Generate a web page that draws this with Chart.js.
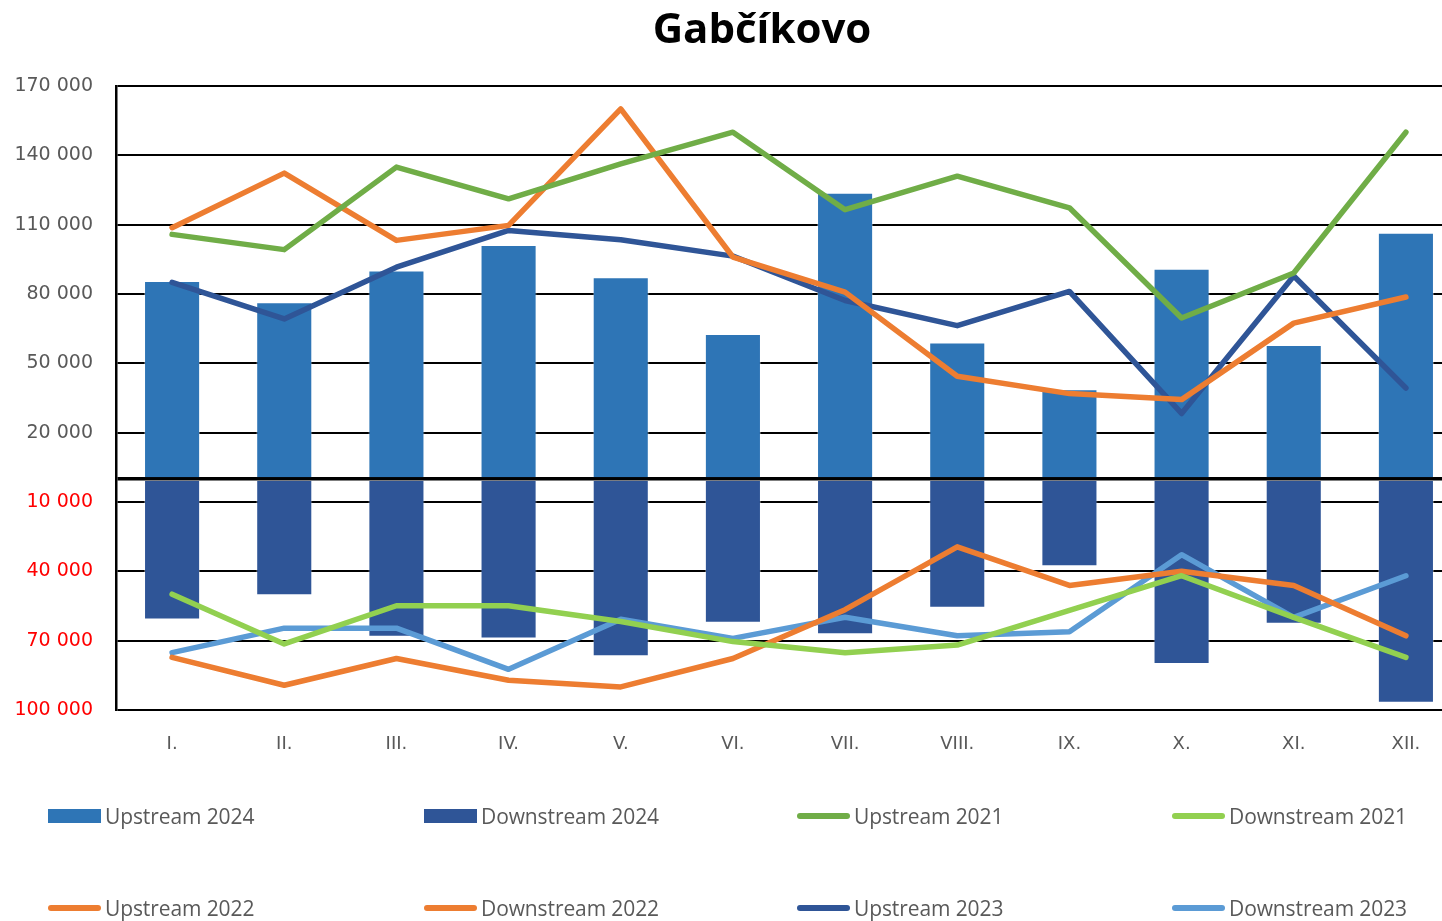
<!DOCTYPE html>
<html><head><meta charset="utf-8">
<script src="https://cdn.jsdelivr.net/npm/chart.js@4.4.1/dist/chart.umd.min.js"></script>
<style>
html,body{margin:0;padding:0;overflow:hidden;background:#fff;width:1442px;height:921px}
#wrap{position:relative;width:1524px;height:921px}
canvas{position:absolute;left:0;top:0}
.leg{position:absolute;font-family:'Open Sans',sans-serif;font-size:21px;color:#595959;display:flex;align-items:center;white-space:nowrap;height:26px;letter-spacing:-0.1px}
.sw{display:inline-block;width:53px;margin-right:4px}
</style></head>
<body><div id="wrap"><canvas id="c" width="1524" height="921"></canvas><div id="legend"></div></div>
<script>
const title = 'Gabčíkovo';
const categories = ['I.','II.','III.','IV.','V.','VI.','VII.','VIII.','IX.','X.','XI.','XII.'];
const yTickValues = [-100000,-70000,-40000,-10000,0,20000,50000,80000,110000,140000,170000];

// Upstream values (drawn above zero)
const upstream2024 = [85600,76400,90200,101200,87200,62700,123800,59000,38800,90900,57900,106500];
const upstream2021 = [105800,99200,134900,121200,136300,150000,116500,131000,117300,69600,89100,150000];
const upstream2022 = [108700,132300,103200,109700,160100,96000,80800,44400,36900,34300,67400,78700];
const upstream2023 = [85000,69200,91600,107500,103500,96400,77200,66300,81100,28300,87800,39300];

// Downstream values (drawn below zero)
const downstream2024 = [60800,50300,68300,69100,76700,62200,67200,55800,37800,80100,62700,96900];
const downstream2021 = [49900,71400,54900,54900,61700,70400,75200,71900,56900,41900,59900,77200];
const downstream2022 = [77200,89300,77700,87100,90000,77700,56600,29400,46100,40000,46100,67900];
const downstream2023 = [75200,64600,64600,82400,60700,69000,59900,67900,66100,32800,59900,41900];

const neg = a => a.map(v => -v);
const fmt = v => String(Math.abs(v)).replace(/\B(?=(\d{3})+(?!\d))/g, ' ');

function barDs(label, data, color){
  return {type:'bar', label, data, backgroundColor:color, borderColor:'rgba(255,255,255,0.35)', borderWidth:1,
    barPercentage:0.5, categoryPercentage:1.0, grouped:false, order:10};
}
function lineDs(label, data, color){
  return {type:'line', label, data, borderColor:color, backgroundColor:color, borderWidth:5.5,
    pointRadius:0, tension:0, borderCapStyle:'round', borderJoinStyle:'round', order:1, fill:false};
}

const datasets = [
  barDs('Upstream 2024', upstream2024, '#2E75B6'),
  barDs('Downstream 2024', neg(downstream2024), '#2F5597'),
  lineDs('Upstream 2021', upstream2021, '#70AD47'),
  lineDs('Downstream 2021', neg(downstream2021), '#92D050'),
  lineDs('Upstream 2022', upstream2022, '#ED7D31'),
  lineDs('Downstream 2022', neg(downstream2022), '#ED7D31'),
  lineDs('Upstream 2023', upstream2023, '#2F5597'),
  lineDs('Downstream 2023', neg(downstream2023), '#5B9BD5'),
];

const chart = new Chart(document.getElementById('c'), {
  data:{labels:categories, datasets},
  options:{
    responsive:false, animation:false,
    layout:{padding:{left:0, right:0, top:0, bottom:168}},
    plugins:{
      legend:{display:false}, tooltip:{enabled:false},
      title:{display:true, text:title, color:'#000', font:{family:"'Open Sans'", size:42, weight:'bold', lineHeight:1.2}, padding:{top:6, bottom:29.6}}
    },
    scales:{
      x:{
        grid:{display:false}, border:{display:false},
        ticks:{color:'#595959', font:{family:"'DejaVu Sans'", size:18}, padding:16},
        afterFit:s=>{s.height = 43;}
      },
      y:{
        min:-100000, max:170000,
        afterBuildTicks:s=>{s.ticks = yTickValues.map(v=>({value:v}));},
        afterFit:s=>{s.width = 116;},
        grid:{color:'#000', lineWidth:c=> (c.tick && c.tick.value===0) ? 3.5 : 2, drawTicks:false},
        border:{display:true, color:'#000', width:2.5},
        ticks:{
          padding:23,
          font:{family:"'DejaVu Sans'", size:19},
          color:c=> c.tick.value < 0 ? '#FF0000' : '#595959',
          callback:v=> v===0 ? '' : fmt(v)
        }
      },
      yR:{
        position:'right', min:-100000, max:170000,
        grid:{display:false, drawOnChartArea:false}, border:{display:false},
        ticks:{display:false},
        afterFit:s=>{s.width = 62;}
      }
    }
  }
});

// HTML legend built from the datasets
const legPos = [[48,816],[424,816],[797,816],[1172,816],[48,908],[424,908],[797,908],[1172,908]];
const legEl = document.getElementById('legend');
datasets.forEach((ds,i)=>{
  const d = document.createElement('div');
  d.className='leg';
  d.style.left = legPos[i][0]+'px';
  d.style.top = (legPos[i][1]-13)+'px';
  const sw = document.createElement('span');
  sw.className='sw';
  if(ds.type==='bar'){ sw.style.height='14px'; sw.style.background=ds.backgroundColor; }
  else { sw.style.height='6px'; sw.style.borderRadius='3px'; sw.style.background=ds.borderColor; }
  d.appendChild(sw);
  const t = document.createElement('span'); t.textContent = ds.label;
  d.appendChild(t);
  legEl.appendChild(d);
});
</script>
</body></html>
